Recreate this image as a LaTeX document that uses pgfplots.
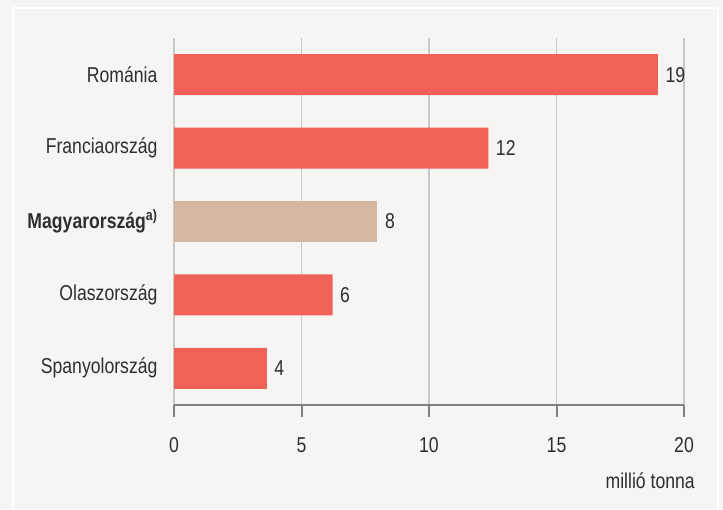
\documentclass[border=0pt]{standalone}
\usepackage{pgfplots}
\pgfplotsset{compat=1.18}
\usepackage{fontspec}
\setmainfont{Liberation Sans}[FakeStretch=0.82]
\definecolor{bg}{HTML}{F7F5F3}
\definecolor{barred}{HTML}{F26157}
\definecolor{bartan}{HTML}{D5B6A1}
\definecolor{txt}{HTML}{2E2E2E}
\definecolor{gridc}{HTML}{C8C8C8}
\definecolor{axisc}{HTML}{7F7F7F}
\begin{document}
\begin{tikzpicture}[x=1pt,y=1pt]
\useasboundingbox (0,0) rectangle (723,509);
\fill[bg] (0,0) rectangle (723,509);
\draw[white, line width=2pt] (13,-5) -- (13,500.5) -- (718,500.5) -- (718,-5);
\begin{axis}[
  at={(174pt,104pt)}, anchor=south west,
  scale only axis, width=510pt, height=367pt,
  xmin=0, xmax=20, ymin=-0.5, ymax=4.5,
  xbar, bar width=41pt, bar shift=0pt,
  font=\fontsize{21.5}{25}\selectfont,
  /pgf/number format/assume math mode=true,
  axis x line*=bottom, axis y line*=left,
  x axis line style={axisc, line width=2pt, -},
  y axis line style={draw=none},
  xtick={0,5,...,20},
  tick align=outside,
  major tick length=12pt,
  x tick style={axisc, line width=2pt},
  ytick style={draw=none},
  xmajorgrids, grid style={gridc, line width=1.2pt},
  ytick={0,1,2,3,4},
  yticklabels={Spanyolország, Olaszország, {\textbf{Magyarország}\textsuperscript{\textbf{a)}}}, Franciaország, Románia},
  tick label style={text=txt, font=\fontsize{21.5}{25}\selectfont},
  yticklabel style={xshift=-1pt},
  xticklabel style={yshift=-17pt},
  nodes near coords={\pgfmathprintnumber[fixed,precision=0]{\pgfplotspointmeta}},
  point meta=x,
  every node near coord/.append style={text=txt, xshift=4pt, font=\fontsize{21.5}{25}\selectfont},
]
\addplot[fill=barred, draw=none] coordinates {(3.64,0) (6.22,1) (12.33,3) (18.98,4)};
\addplot[fill=bartan, draw=none] coordinates {(7.98,2)};
\end{axis}
\node[anchor=east, text=txt, inner sep=0pt, font=\fontsize{21.5}{25}\selectfont] at (695,28.5) {millió tonna};
\end{tikzpicture}
\end{document}
